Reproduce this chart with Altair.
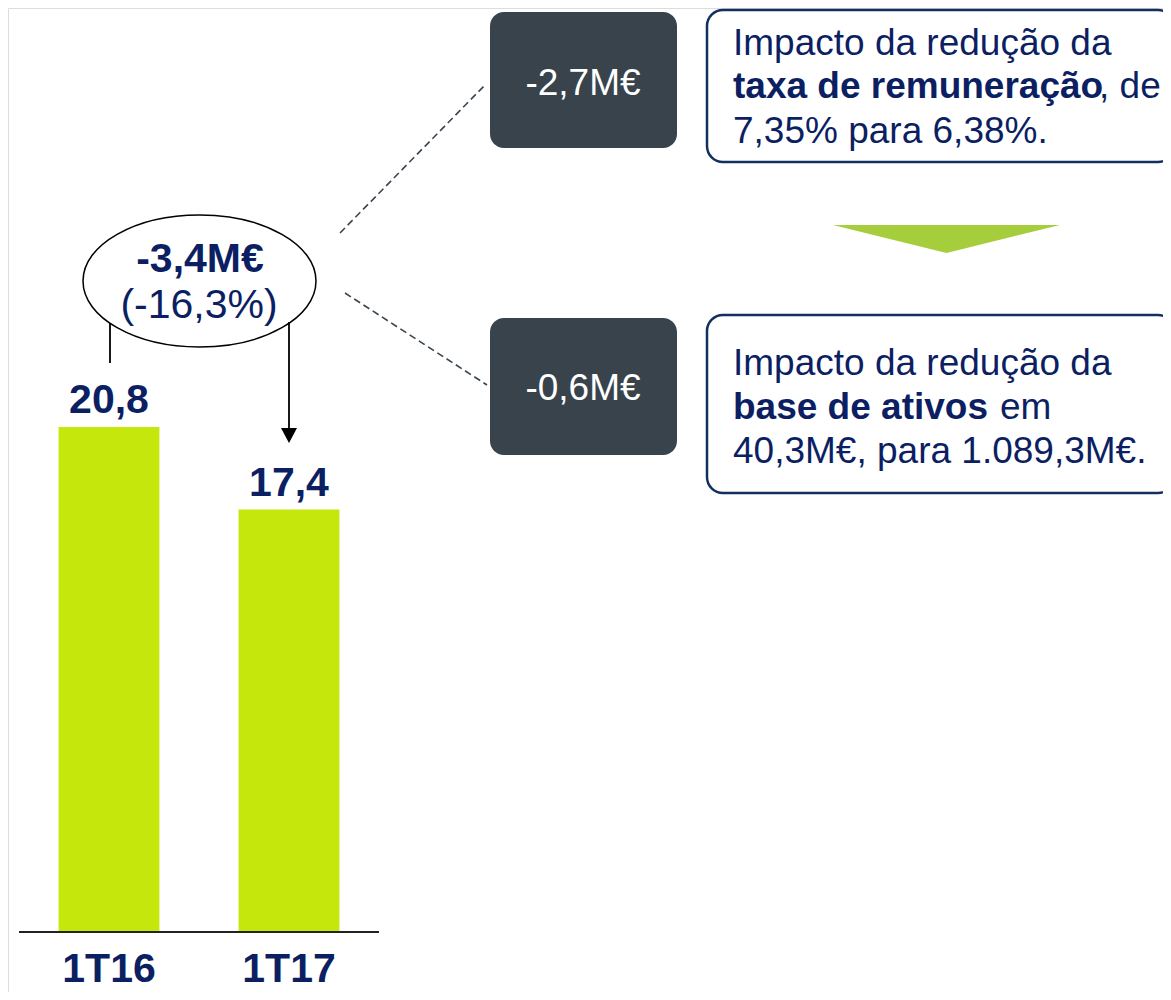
import altair as alt
import pandas as pd

# ---------------- data ----------------
categories = ["1T16", "1T17"]
values = [20.8, 17.4]
value_labels = ["20,8", "17,4"]

change_abs = "-3,4M€"
change_pct = "(-16,3%)"
impact_values = ["-2,7M€", "-0,6M€"]

box1_line1 = "Impacto da redução da"
box1_bold = "taxa de remuneração"
box1_rest = ", de"
box1_line3 = "7,35% para 6,38%."

box2_line1 = "Impacto da redução da"
box2_bold = "base de ativos"
box2_rest = "em"
box2_line3 = "40,3M€, para 1.089,3M€."

# ---------------- style ----------------
FONT = "Liberation Sans"
NAVY = "#0c1f63"
LIME = "#c5e70c"
DARK = "#39434c"
BORDER = "#11305f"
DASH = "#3a4550"
TRI = "#a6cd3c"
OFF = 8  # page margin

bars_df = pd.DataFrame({"cat": categories, "val": values, "lbl": value_labels})
one = pd.DataFrame({"k": [0]})

xs = alt.Scale(domain=categories, range=[11, 371], paddingInner=0.44, paddingOuter=0.22)
ys = alt.Scale(domain=[0, 38.06], range=[924, 0], nice=False, zero=True)

base = alt.Chart(bars_df)
bars = base.mark_bar(color=LIME).encode(
    x=alt.X("cat:N", scale=xs, axis=None, sort=categories),
    y=alt.Y("val:Q", scale=ys, axis=None),
)
val_text = base.mark_text(
    font=FONT, fontSize=41, fontWeight="bold", color=NAVY, baseline="alphabetic", dy=-14
).encode(
    x=alt.X("cat:N", scale=xs, axis=None, sort=categories),
    y=alt.Y("val:Q", scale=ys, axis=None),
    text="lbl:N",
)
cat_text = base.mark_text(
    font=FONT, fontSize=41, fontWeight="bold", color=NAVY, baseline="alphabetic"
).encode(
    x=alt.X("cat:N", scale=xs, axis=None, sort=categories),
    y=alt.value(982 - OFF),
    text="cat:N",
)


def txt(s, x, y, size, bold=False, color=NAVY, align="left"):
    return alt.Chart(one).mark_text(
        text=s, font=FONT, fontSize=size, fontWeight="bold" if bold else "normal",
        color=color, align=align, baseline="alphabetic",
    ).encode(x=alt.value(x - OFF), y=alt.value(y - OFF))


def rule(x1, y1, x2, y2, color, width, dash=None):
    kw = dict(color=color, strokeWidth=width)
    if dash:
        kw["strokeDash"] = dash
    return alt.Chart(one).mark_rule(**kw).encode(
        x=alt.value(x1 - OFF), y=alt.value(y1 - OFF),
        x2=alt.value(x2 - OFF), y2=alt.value(y2 - OFF),
    )


def box(x1, y1, x2, y2, radius, fill, stroke=None, sw=0):
    kw = dict(cornerRadius=radius, fill=fill, strokeWidth=sw)
    if stroke:
        kw["stroke"] = stroke
    return alt.Chart(one).mark_rect(**kw).encode(
        x=alt.value(x1 - OFF), x2=alt.value(x2 - OFF),
        y=alt.value(y1 - OFF), y2=alt.value(y2 - OFF),
    )


def symbol(path, cx, cy, width, fill=None, stroke=None, sw=0):
    kw = dict(shape=path, size=width * width, opacity=1, strokeWidth=sw)
    if fill:
        kw.update(filled=True, fill=fill)
    else:
        kw.update(filled=False)
    if stroke:
        kw["stroke"] = stroke
    return alt.Chart(one).mark_point(**kw).encode(
        x=alt.value(cx - OFF), y=alt.value(cy - OFF)
    )


ry = 132 / 233
k = 0.5523
ellipse_path = (
    f"M -1 0 C -1 {-ry*k:.4f} {-k} {-ry:.4f} 0 {-ry:.4f} "
    f"C {k} {-ry:.4f} 1 {-ry*k:.4f} 1 0 "
    f"C 1 {ry*k:.4f} {k} {ry:.4f} 0 {ry:.4f} "
    f"C {-k} {ry:.4f} -1 {ry*k:.4f} -1 0 Z"
)
tri_path = "M -1 -0.123 L 1 -0.123 L 0 0.123 Z"
head_path = "M -1 -0.94 L 1 -0.94 L 0 0.94 Z"

layers = [
    bars,
    rule(19, 932, 379, 932, "#222222", 2),
    val_text,
    cat_text,
    # ellipse with change
    symbol(ellipse_path, 199.5, 281, 233, stroke="#000000", sw=1.5),
    txt(change_abs, 200, 272, 41, bold=True, align="center"),
    txt(change_pct, 199, 318, 41, align="center"),
    # connectors
    rule(110, 323, 110, 363, "#000000", 1.8),
    rule(289, 322, 289, 430, "#000000", 1.8),
    symbol(head_path, 289, 435.5, 16, fill="#000000"),
    # dashed lines
    rule(340, 233, 485, 85, DASH, 1.6, [7, 4]),
    rule(345, 293, 487, 385, DASH, 1.6, [7, 4]),
    # dark boxes
    box(490, 12, 677, 148, 14, DARK),
    box(490, 318, 677, 455, 14, DARK),
    txt(impact_values[0], 583, 95, 37, color="white", align="center"),
    txt(impact_values[1], 583, 400, 37, color="white", align="center"),
    # outline boxes
    box(707, 10, 1174, 162, 16, "white", BORDER, 2.5),
    box(707, 315, 1174, 493, 16, "white", BORDER, 2.5),
    txt(box1_line1, 733, 55, 37),
    txt(box1_bold, 733, 98, 37, bold=True),
    txt(box1_rest, 1099, 98, 37),
    txt(box1_line3, 733, 143, 37),
    txt(box2_line1, 733, 375, 37),
    txt(box2_bold, 733, 419, 37, bold=True),
    txt(box2_rest, 1000, 419, 37),
    txt(box2_line3, 733, 463, 37),
    # arrow triangle
    symbol(tri_path, 946.5, 239, 227, fill=TRI),
]

chart = alt.layer(*layers).properties(
    width=1155, height=984, padding=0, autosize=alt.AutoSizeParams(type="none")
).configure_view(stroke="transparent", strokeWidth=0).configure(background="white")

chart.save("out.html", embed_options={"renderer": "svg", "actions": False})
